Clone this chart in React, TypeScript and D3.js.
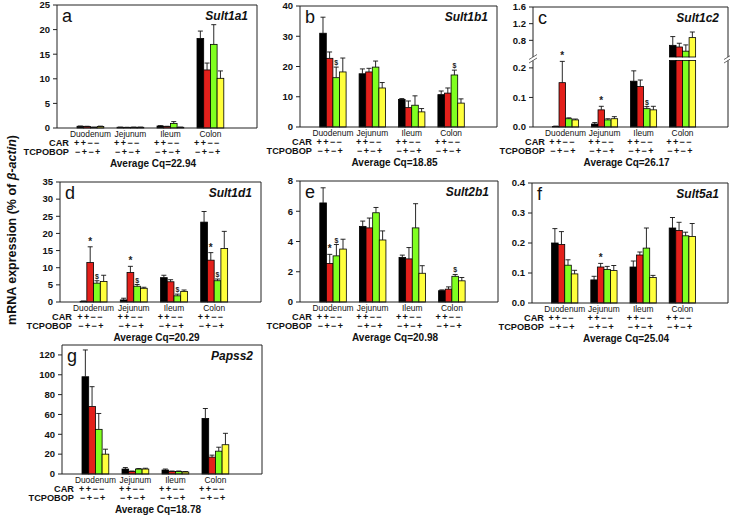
import React from "react";
import * as d3 from "d3";

const groups = ["Duodenum", "Jejunum", "Ileum", "Colon"];
const treatments = ["CAR+ TCPOBOP−", "CAR+ TCPOBOP+", "CAR− TCPOBOP−", "CAR− TCPOBOP+"];
const barColors = ["#000000", "#e3201b", "#80ff20", "#ffff3c"];
const carSigns = "++−−";
const tcpobopSigns = "−+−+";
const yAxisTitle = "mRNA expression (% of ";
const yAxisTitleItalic = "β-actin";

// a: Sult1a1
const sult1a1Mean = [[0.35, 0.3, 0.15, 0.3], [0.15, 0.12, 0.15, 0.15], [0.4, 0.3, 0.9, 0.15], [18.2, 11.8, 17, 10.1]];
const sult1a1Err = [[0.05, 0.05, 0.03, 0.08], [0.03, 0.03, 0.03, 0.03], [0.08, 0.05, 0.4, 0.03], [1.5, 1.4, 4, 1.5]];
const sult1a1Marks = [["", "", "", ""], ["", "", "", ""], ["", "", "", ""], ["", "", "", ""]];

// b: Sult1b1
const sult1b1Mean = [[31, 22.7, 16.3, 18.2], [17.6, 18.2, 19.8, 12.9], [9.1, 6.4, 7.2, 5], [10.7, 11.2, 17.2, 7.9]];
const sult1b1Err = [[5.3, 2.1, 3.5, 4.6], [1.6, 1.2, 2, 1.8], [0.3, 2.2, 3.1, 1.1], [1.2, 1.7, 1.6, 1.4]];
const sult1b1Marks = [["", "", "$", ""], ["", "", "", ""], ["", "", "", ""], ["", "", "$", ""]];

// c: Sult1c2
const sult1c2Mean = [[0.002, 0.15, 0.028, 0.024], [0.01, 0.058, 0.024, 0.028], [0.155, 0.137, 0.062, 0.058], [0.68, 0.64, 0.54, 0.865]];
const sult1c2Err = [[0.001, 0.072, 0.003, 0.003], [0.005, 0.012, 0.004, 0.007], [0.035, 0.022, 0.007, 0.012], [0.21, 0.09, 0.15, 0.135]];
const sult1c2Marks = [["", "*", "", ""], ["", "*", "", ""], ["", "", "$", ""], ["", "", "", ""]];

// d: Sult1d1
const sult1d1Mean = [[0.2, 11.5, 5.5, 6], [0.6, 8.6, 4.6, 4], [7.1, 5.9, 1.8, 3.1], [23.3, 12.2, 6.2, 15.6]];
const sult1d1Err = [[0.1, 4.6, 0.7, 1.8], [0.5, 1.8, 0.5, 0.3], [0.7, 0.6, 0.5, 0.4], [3.1, 2.2, 0.5, 5]];
const sult1d1Marks = [["", "*", "$", ""], ["", "*", "$", ""], ["", "", "$", ""], ["", "*", "$", ""]];

// e: Sult2b1
const sult2b1Mean = [[6.55, 2.55, 3.05, 3.5], [5.0, 4.9, 5.9, 4.1], [2.95, 2.85, 4.9, 1.9], [0.75, 0.85, 1.7, 1.4]];
const sult2b1Err = [[1.0, 0.6, 0.75, 0.65], [0.35, 0.65, 0.35, 0.6], [0.15, 0.75, 1.6, 0.5], [0.05, 0.15, 0.12, 0.22]];
const sult2b1Marks = [["", "*", "$", ""], ["", "", "", ""], ["", "", "", ""], ["", "", "$", ""]];

// f: Sult5a1
const sult5a1Mean = [[0.2, 0.195, 0.126, 0.097], [0.077, 0.12, 0.112, 0.108], [0.12, 0.16, 0.183, 0.085], [0.25, 0.242, 0.224, 0.222]];
const sult5a1Err = [[0.048, 0.043, 0.018, 0.012], [0.012, 0.012, 0.01, 0.017], [0.02, 0.01, 0.067, 0.007], [0.035, 0.027, 0.012, 0.043]];
const sult5a1Marks = [["", "", "", ""], ["", "*", "", ""], ["", "", "", ""], ["", "", "", ""]];

// g: Papss2
const papss2Mean = [[98, 68, 45, 20], [5, 2.5, 5, 5], [4, 2.5, 2.5, 2], [56, 17, 23, 29.5]];
const papss2Err = [[27, 20, 16, 5], [1.5, 0.5, 0.5, 0.8], [1, 0.5, 0.5, 0.5], [10, 2, 4, 11.5]];
const papss2Marks = [["", "", "", ""], ["", "", "", ""], ["", "", "", ""], ["", "", "", ""]];

const yTicksA = [0, 5, 10, 15, 20, 25];
const yTicksB = [0, 10, 20, 30, 40];
const yTicksCLow = [0, 0.1, 0.2];
const yTicksCHigh = [0.8, 1.2, 1.6];
const yTicksD = [0, 5, 10, 15, 20, 25, 30, 35];
const yTicksE = [0, 2, 4, 6, 8];
const yTicksF = [0, 0.1, 0.2, 0.3, 0.4];
const yTicksG = [0, 20, 40, 60, 80, 100, 120];

type PanelDef = {
  letter: string;
  gene: string;
  cq: string;
  mean: number[][];
  err: number[][];
  marks: string[][];
  domain: [number, number];
  ticks: number[];
  fmt: string;
  box: { x0: number; x1: number; yTop: number; yBot: number };
  broken?: { lowMax: number; upMin: number; upMax: number; gapTop: number; gapBot: number; lowTicks: number[]; highTicks: number[] };
};

const panels: PanelDef[] = [
  { letter: "a", gene: "Sult1a1", cq: "22.94", mean: sult1a1Mean, err: sult1a1Err, marks: sult1a1Marks, domain: [0, 25], ticks: yTicksA, fmt: "d", box: { x0: 57, x1: 257, yTop: 5, yBot: 128 } },
  { letter: "b", gene: "Sult1b1", cq: "18.85", mean: sult1b1Mean, err: sult1b1Err, marks: sult1b1Marks, domain: [0, 40], ticks: yTicksB, fmt: "d", box: { x0: 300, x1: 497, yTop: 6, yBot: 127 } },
  { letter: "c", gene: "Sult1c2", cq: "26.17", mean: sult1c2Mean, err: sult1c2Err, marks: sult1c2Marks, domain: [0, 1.6], ticks: [], fmt: ".1f", box: { x0: 533, x1: 728, yTop: 7, yBot: 127 },
    broken: { lowMax: 0.225, upMin: 0.4, upMax: 1.6, gapTop: 57, gapBot: 60.5, lowTicks: yTicksCLow, highTicks: yTicksCHigh } },
  { letter: "d", gene: "Sult1d1", cq: "20.29", mean: sult1d1Mean, err: sult1d1Err, marks: sult1d1Marks, domain: [0, 35], ticks: yTicksD, fmt: "d", box: { x0: 60, x1: 261, yTop: 182, yBot: 302 } },
  { letter: "e", gene: "Sult2b1", cq: "20.98", mean: sult2b1Mean, err: sult2b1Err, marks: sult2b1Marks, domain: [0, 8], ticks: yTicksE, fmt: "d", box: { x0: 300, x1: 498, yTop: 181, yBot: 302 } },
  { letter: "f", gene: "Sult5a1", cq: "25.04", mean: sult5a1Mean, err: sult5a1Err, marks: sult5a1Marks, domain: [0, 0.4], ticks: yTicksF, fmt: ".1f", box: { x0: 532, x1: 728, yTop: 183, yBot: 303 } },
  { letter: "g", gene: "Papss2", cq: "18.78", mean: papss2Mean, err: papss2Err, marks: papss2Marks, domain: [0, 130], ticks: yTicksG, fmt: "d", box: { x0: 62, x1: 262, yTop: 345, yBot: 474 } },
];

const FONT = "'Liberation Sans', Arial, Helvetica, sans-serif";

function Panel({ p }: { p: PanelDef }) {
  const { x0, x1, yTop, yBot } = p.box;
  const xg = d3.scaleLinear().domain([0, 5]).range([x0, x1]);
  const gw = xg(1.17) - xg(0.5);
  const inner = d3.scaleBand<number>().domain(d3.range(treatments.length)).range([0, gw]);
  const bw = inner.bandwidth();
  const fmt = d3.format(p.fmt);

  const br = p.broken;
  const single = d3.scaleLinear().domain(p.domain).range([yBot, yTop]);
  const lower = br ? d3.scaleLinear().domain([0, br.lowMax]).range([yBot, br.gapBot]) : single;
  const upper = br ? d3.scaleLinear().domain([br.upMin, br.upMax]).range([br.gapTop, yTop]) : single;
  const y = (v: number) => (br ? (v <= br.lowMax ? lower(v) : upper(v)) : single(v));

  const tickItems: { v: number; py: number }[] = br
    ? [...br.lowTicks.map((v) => ({ v, py: lower(v) })), ...br.highTicks.map((v) => ({ v, py: upper(v) }))]
    : p.ticks.map((v) => ({ v, py: single(v) }));

  const bars: React.ReactNode[] = [];
  groups.forEach((g, gi) => {
    const gx = xg(gi + 0.5);
    treatments.forEach((t, ti) => {
      const v = p.mean[gi][ti];
      const e = p.err[gi][ti];
      const bx = gx + (inner(ti) as number);
      const cx = bx + bw / 2;
      const key = `${gi}-${ti}`;
      if (br && v > br.lowMax) {
        bars.push(
          <rect key={key + "l"} x={bx} y={br.gapBot} width={bw} height={yBot - br.gapBot} fill={barColors[ti]} stroke="#000" strokeWidth={0.8} />
        );
        bars.push(
          <rect key={key + "u"} x={bx} y={upper(v)} width={bw} height={br.gapTop - upper(v)} fill={barColors[ti]} stroke="#000" strokeWidth={0.8} />
        );
      } else {
        bars.push(
          <rect key={key} x={bx} y={y(v)} width={bw} height={Math.max(0, yBot - y(v))} fill={barColors[ti]} stroke="#000" strokeWidth={0.8} />
        );
      }
      const ye = y(v + e);
      bars.push(<line key={key + "e"} x1={cx} x2={cx} y1={y(v)} y2={ye} stroke="#111" strokeWidth={0.9} />);
      bars.push(<line key={key + "c"} x1={cx - 2.5} x2={cx + 2.5} y1={ye} y2={ye} stroke="#111" strokeWidth={0.9} />);
      const m = p.marks[gi][ti];
      if (m) {
        bars.push(
          <text key={key + "m"} x={cx} y={ye - 2} textAnchor="middle" fontSize={m === "*" ? 10 : 7} fontWeight="bold" fill="#222">
            {m}
          </text>
        );
      }
    });
  });

  const frame: React.ReactNode[] = [];
  if (br) {
    frame.push(<line key="la1" x1={x0} x2={x0} y1={yBot} y2={br.gapBot} stroke="#222" />);
    frame.push(<line key="la2" x1={x0} x2={x0} y1={br.gapTop} y2={yTop} stroke="#222" />);
    frame.push(<line key="ra1" x1={x1} x2={x1} y1={yBot} y2={br.gapBot} stroke="#222" />);
    frame.push(<line key="ra2" x1={x1} x2={x1} y1={br.gapTop} y2={yTop} stroke="#222" />);
    [x0, x1].forEach((xx, k) => {
      [br.gapTop, br.gapBot].forEach((yy, j) => {
        frame.push(<line key={`s${k}${j}`} x1={xx - 4} x2={xx + 4} y1={yy + 2.5} y2={yy - 2.5} stroke="#444" strokeWidth={0.8} />);
      });
    });
  } else {
    frame.push(<line key="la" x1={x0} x2={x0} y1={yBot} y2={yTop} stroke="#222" />);
    frame.push(<line key="ra" x1={x1} x2={x1} y1={yBot} y2={yTop} stroke="#222" />);
  }
  frame.push(<line key="ta" x1={x0} x2={x1} y1={yTop} y2={yTop} stroke="#222" />);
  frame.push(<line key="ba" x1={x0} x2={x1} y1={yBot} y2={yBot} stroke="#222" />);

  return (
    <g fontFamily={FONT}>
      {bars}
      {frame}
      {tickItems.map((t) => (
        <g key={"t" + t.v}>
          <line x1={x0 - 4} x2={x0} y1={t.py} y2={t.py} stroke="#222" />
          <text x={x0 - 7} y={t.py + 3.3} textAnchor="end" fontSize={9.5} fontWeight="bold" fill="#111">
            {fmt(t.v)}
          </text>
        </g>
      ))}
      <text x={x0 + 5} y={yTop + 17} fontSize={18} fill="#111">
        {p.letter}
      </text>
      <text x={x1 - 9} y={yTop + 15} textAnchor="end" fontSize={12} fontWeight="bold" fontStyle="italic" fill="#111">
        {p.gene}
      </text>
      {groups.map((g, gi) => {
        const gc = xg(gi + 0.5) + gw / 2;
        return (
          <g key={"g" + g}>
            <text x={gc} y={yBot + 9} textAnchor="middle" fontSize={8.4} fill="#111">
              {g}
            </text>
            <text x={gc - 3} y={yBot + 18} textAnchor="middle" fontSize={9} fontWeight="bold" letterSpacing={1.4} fill="#111">
              {carSigns}
            </text>
            <text x={gc - 2} y={yBot + 26.5} textAnchor="middle" fontSize={9} fontWeight="bold" letterSpacing={1.4} fill="#111">
              {tcpobopSigns}
            </text>
          </g>
        );
      })}
      <text x={x0 + 12} y={yBot + 18} textAnchor="end" fontSize={9.2} fontWeight="bold" fill="#111">
        CAR
      </text>
      <text x={x0 + 12} y={yBot + 26.5} textAnchor="end" fontSize={9.2} fontWeight="bold" fill="#111">
        TCPOBOP
      </text>
      <text x={x0 + (x1 - x0) * 0.48} y={yBot + 38.5} textAnchor="middle" fontSize={10} fontWeight="bold" fill="#111">
        {`Average Cq=${p.cq}`}
      </text>
    </g>
  );
}

export default function App() {
  return (
    <svg width={730} height={516} style={{ position: "absolute", left: 0, top: 0, background: "#fff" }}>
      <rect x={0} y={0} width={730} height={516} fill="#fff" />
      {panels.map((p) => (
        <Panel key={p.letter} p={p} />
      ))}
      <text transform="translate(16,230) rotate(-90)" textAnchor="middle" fontFamily={FONT} fontSize={12.5} fontWeight="bold" fill="#111">
        {yAxisTitle}
        <tspan fontStyle="italic">{yAxisTitleItalic}</tspan>)
      </text>
    </svg>
  );
}
